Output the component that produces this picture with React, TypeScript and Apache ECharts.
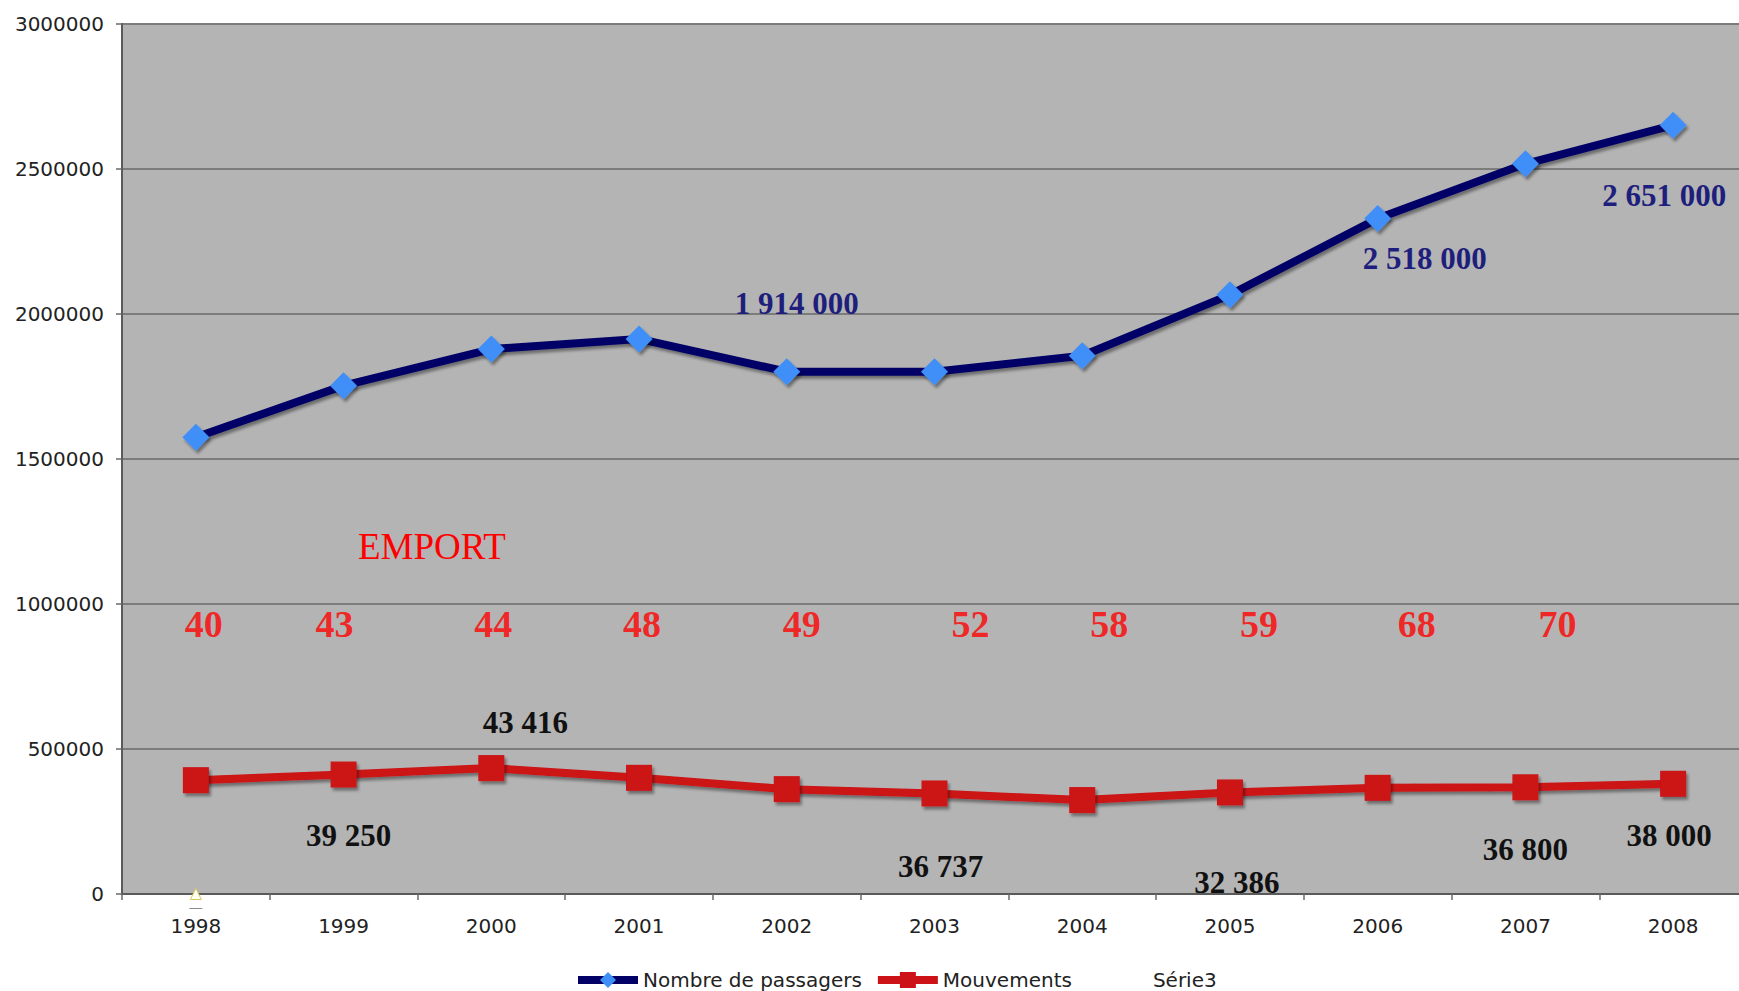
import React, { useEffect, useRef } from "react";
import * as echarts from "echarts";

// ---------- data ----------
const categories = ["1998", "1999", "2000", "2001", "2002", "2003", "2004", "2005", "2006", "2007", "2008"];
const passengers = [1575000, 1753000, 1879000, 1914000, 1801000, 1801000, 1856000, 2066000, 2329000, 2518000, 2651000];
// movements plotted x10 on the same axis
const movementsScaled = [392500, 412000, 434160, 400600, 361600, 346700, 323860, 350200, 366100, 368000, 380000];
const serie3 = [0, null, null, null, null, null, null, null, null, null, null];
const emport = [40, 43, 44, 48, 49, 52, 58, 59, 68, 70, null];
const passengerLabelText = ["", "", "", "", "1 914 000", "", "", "", "2 518 000", "", "2 651 000"];
const movementLabelText = ["", "39 250", "43 416", "", "", "36 737", "", "32 386", "", "36 800", "38 000"];
const yTicks = { min: 0, max: 3000000, interval: 500000 };
const legendNames = ["Nombre de passagers", "Mouvements", "Série3"];
const emportTitle = "EMPORT";

// ---------- layout / style ----------
const passengerLabelOffset: Record<number, [number, number]> = { 4: [10, -68], 8: [47, 40], 10: [-9, 70] };
const movementLabelOffset: Record<number, [number, number]> = {
  1: [5, 61], 2: [34, -46], 5: [6, 73], 7: [7, 90], 9: [0, 62], 10: [-4, 52],
};
const emportNudge = [8, -9, 2, 3, 15, 36, 27, 29, 39, 32, 0];
const EMPORT_ROW = 930000; // vertical placement of the EMPORT row

const SANS = "DejaVu Sans";
const SERIF = "Liberation Serif";

export default function App() {
  const ref = useRef<HTMLDivElement>(null);
  useEffect(() => {
    if (!ref.current) return;
    const chart = echarts.init(ref.current, undefined, { renderer: "svg" });

    const shadow = { shadowColor: "rgba(0,0,0,0.4)", shadowBlur: 3, shadowOffsetX: 2, shadowOffsetY: 3 };

    const passengerData = passengers.map((v, i) =>
      passengerLabelText[i]
        ? {
            value: v,
            label: {
              show: true,
              position: "inside",
              formatter: passengerLabelText[i],
              offset: passengerLabelOffset[i] || [0, 0],
            },
          }
        : v
    );
    const movementData = movementsScaled.map((v, i) =>
      movementLabelText[i]
        ? {
            value: v,
            label: {
              show: true,
              position: "inside",
              formatter: movementLabelText[i],
              offset: movementLabelOffset[i] || [0, 0],
            },
          }
        : v
    );
    const emportData = emport.map((v, i) =>
      v == null
        ? null
        : {
            value: EMPORT_ROW,
            label: { show: true, position: "inside", formatter: String(v), offset: [emportNudge[i], 0] },
          }
    );

    chart.setOption({
      animation: false,
      backgroundColor: "#ffffff",
      grid: {
        left: 122,
        top: 24,
        right: 3,
        height: 870,
        show: true,
        backgroundColor: "#b4b4b4",
        borderColor: "#6a6a6a",
        borderWidth: 2,
      },
      legend: {
        data: [
          legendNames[0],
          legendNames[1],
          {
            name: legendNames[2],
            itemStyle: { opacity: 0 },
            lineStyle: { opacity: 0 },
          },
        ],
        left: 569,
        top: 965,
        itemWidth: 60,
        itemHeight: 20,
        itemGap: 12,
        lineStyle: { width: 8 },
        textStyle: { fontFamily: SANS, fontSize: 20, color: "#222" },
      },
      xAxis: {
        type: "category",
        data: categories,
        boundaryGap: true,
        axisLine: { lineStyle: { color: "#5a5a5a", width: 2 } },
        axisTick: { show: true, length: 6, lineStyle: { color: "#6a6a6a", width: 1.5 } },
        axisLabel: { fontFamily: SANS, fontSize: 20, color: "#222", margin: 22 },
        splitLine: { show: false },
      },
      yAxis: {
        type: "value",
        min: yTicks.min,
        max: yTicks.max,
        interval: yTicks.interval,
        axisLine: { show: true, lineStyle: { color: "#5a5a5a", width: 2 } },
        axisTick: { show: true, length: 6, lineStyle: { color: "#6a6a6a", width: 1.5 } },
        axisLabel: { fontFamily: SANS, fontSize: 20, color: "#222", margin: 18, formatter: (v: number) => String(v) },
        splitLine: { show: true, lineStyle: { color: "#7c7c7c", width: 2 } },
      },
      graphic: [
        {
          type: "text",
          left: 432 - 74,
          top: 548 - 20,
          style: {
            text: emportTitle,
            fontFamily: SERIF,
            fontSize: 37,
            fill: "#ff0000",
          },
        },
      ],
      series: [
        {
          name: "Série3",
          type: "line",
          data: serie3,
          color: "#ffffff",
          symbol: "triangle",
          symbolSize: 11,
          itemStyle: { color: "#fffff4", borderColor: "#d9c860", borderWidth: 1 },
          lineStyle: { color: "#ffffff", width: 2 },
          label: {
            show: true,
            position: "bottom",
            distance: 1,
            formatter: "—",
            fontFamily: SANS,
            fontSize: 14,
            lineHeight: 12,
            color: "#8a8a8a",
          },
          z: 3,
        },
        {
          name: "Mouvements",
          type: "line",
          data: movementData,
          color: "#cc1216",
          symbol: "rect",
          symbolSize: 26,
          lineStyle: { color: "#cc1216", width: 8, ...shadow },
          itemStyle: { color: "#cc1216", ...shadow },
          label: {
            show: false,
            fontFamily: SERIF,
            fontWeight: "bold",
            fontSize: 31,
            color: "#111111",
          },
          z: 4,
        },
        {
          name: "Nombre de passagers",
          type: "line",
          data: passengerData,
          color: "#000066",
          symbol: "diamond",
          symbolSize: 27,
          lineStyle: { color: "#000066", width: 8, ...shadow },
          itemStyle: { color: "#3f8ff8", ...shadow },
          label: {
            show: false,
            fontFamily: SERIF,
            fontWeight: "bold",
            fontSize: 31,
            color: "#1e1e7c",
          },
          z: 5,
        },
        {
          name: "emport",
          type: "scatter",
          data: emportData,
          symbolSize: 1,
          itemStyle: { color: "rgba(0,0,0,0)" },
          label: {
            show: true,
            fontFamily: SERIF,
            fontWeight: "bold",
            fontSize: 38,
            color: "#ff0000",
          },
          silent: true,
          z: 6,
        },
      ],
    });
    return () => chart.dispose();
  }, []);

  return (
    <div style={{ position: "absolute", left: 0, top: 0, width: 1739, height: 991, overflow: "hidden", background: "#ffffff" }}>
      <div ref={ref} style={{ width: 1750, height: 991 }} />
    </div>
  );
}
